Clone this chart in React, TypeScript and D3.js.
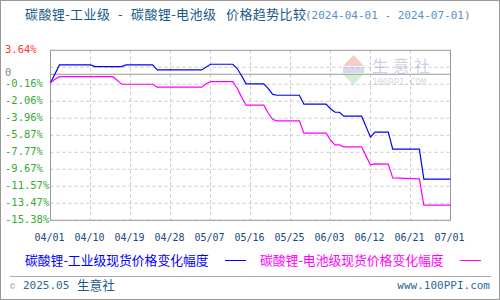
import React from "react";
import * as d3 from "d3";

// ---- data (day index from 2024-04-01, % change) ----
const industrialDays = [0, 1, 2, 9, 10, 16, 17, 23, 24, 34, 36, 41, 42, 43, 44, 48, 49, 50, 51, 56, 57, 62, 63, 64, 65, 66, 70, 71, 72, 73, 76, 77, 83, 84, 90];
const industrialValues = [0, 1.0, 2.0, 2.0, 1.81, 1.81, 2.0, 2.0, 1.44, 1.44, 2.08, 2.08, 1.6, 0.8, -0.12, -0.12, -0.65, -1.3, -1.39, -1.39, -2.39, -2.39, -2.9, -3.29, -3.29, -3.73, -3.73, -4.9, -6.08, -5.52, -5.5, -7.42, -7.42, -10.77, -10.77];

const batteryDays = [0, 1, 2, 14, 15, 16, 23, 24, 34, 35, 36, 41, 42, 43, 44, 48, 49, 50, 51, 56, 57, 62, 63, 64, 65, 66, 70, 71, 72, 73, 76, 77, 83, 84, 90];
const batteryValues = [0, 0.4, 0.69, 0.69, 0.3, -0.16, -0.16, -0.49, -0.49, -0.1, 0.13, 0.13, -0.6, -1.6, -2.5, -2.5, -3.4, -4.1, -4.26, -4.26, -5.63, -5.63, -6.4, -6.94, -6.94, -7.16, -7.16, -8.2, -9.18, -9.07, -9.1, -10.63, -10.75, -13.68, -13.68];

const xTickDays = [0, 9, 18, 27, 36, 45, 54, 63, 72, 81, 90];
const xTickLabels = ["04/01", "04/10", "04/19", "04/28", "05/07", "05/16", "05/25", "06/03", "06/12", "06/21", "07/01"];

const yTickValues = [3.64, 1.74, -0.16, -2.06, -3.96, -5.87, -7.77, -9.67, -11.57, -13.47, -15.38];
const yTickLabels = ["3.64%", "", "-0.16%", "-2.06%", "-3.96%", "-5.87%", "-7.77%", "-9.67%", "-11.57%", "-13.47%", "-15.38%"];
const zeroLineValue = 0.96; // where the source draws its "0" reference line
const zeroLabel = "0";

const titleParts = ["碳酸锂-工业级", "-", "碳酸锂-电池级", "价格趋势比较"];
const titleDates = "(2024-04-01 - 2024-07-01)";
const seriesNames = ["碳酸锂-工业级现货价格变化幅度", "碳酸锂-电池级现货价格变化幅度"];
const seriesColors = ["#0000ff", "#ff00ff"];

const W = 500, H = 300;
const plot = { left: 50.5, right: 450.5, top: 50.3, bottom: 220.3 };
const mono = "'DejaVu Sans Mono', monospace";
const cjk = "'Noto Sans CJK SC', sans-serif";
const titleX = [25, 118, 131, 226];

export default function App() {
  const x = d3.scaleLinear().domain([0, 90]).range([plot.left, plot.right]);
  const y = d3.scaleLinear().domain([-15.38, 3.64]).range([plot.bottom, plot.top]);
  const line = d3.line<[number, number]>().x(d => x(d[0])).y(d => y(d[1]));
  const s1: [number, number][] = industrialDays.map((d, i) => [d, industrialValues[i]]);
  const s2: [number, number][] = batteryDays.map((d, i) => [d, batteryValues[i]]);

  return (
    <svg width={W} height={H} style={{ position: "absolute", left: 0, top: 0, background: "#fff" }}>
      <rect x={0.5} y={0.5} width={W - 1} height={H - 1} fill="#fff" stroke="#999" />
      {/* title */}
      <text y={19} fontFamily={cjk} fontSize={13} letterSpacing={0.4} fill="#16598a">
        {titleParts.map((t, i) => (
          <tspan key={"t" + i} x={titleX[i]}>{t}</tspan>
        ))}
        <tspan x={305} fontFamily={mono} fontSize={11} letterSpacing={0} fill="#5a8fbf">{titleDates}</tspan>
      </text>

      {/* grid */}
      {yTickValues.slice(1).map((v, i) => (
        <line key={"gy" + i} x1={plot.left} x2={plot.right} y1={y(v)} y2={y(v)} stroke="#c8c8c8" strokeDasharray="3,3" />
      ))}
      {xTickDays.slice(1, -1).map((d, i) => (
        <line key={"gx" + i} x1={x(d)} x2={x(d)} y1={plot.top} y2={plot.bottom} stroke="#c8c8c8" strokeDasharray="3,3" />
      ))}

      {/* watermark */}
      <g opacity={0.4}>
        <path d={`M353.5,55 L343,66 L364,66 Z`} fill="#f08070" />
        <rect x={343} y={67} width={21} height={6} fill="#9aa4c8" />
        <path d={`M343,74 L364,74 L353.5,85 Z`} fill="#90d890" />
        <text x={372} y={72} fontFamily={cjk} fontSize={16} fill="#8090c0" letterSpacing={5}>生意社</text>
        <text x={372} y={85} fontFamily={mono} fontSize={9} fill="#a0a0a0">100PPI.COM</text>
      </g>

      {/* zero reference line */}
      <line x1={plot.left} x2={plot.right} y1={y(zeroLineValue)} y2={y(zeroLineValue)} stroke="#999" strokeWidth={1} />

      {/* frame */}
      <rect x={plot.left} y={plot.top} width={plot.right - plot.left} height={plot.bottom - plot.top} fill="none" stroke="#999" />

      {/* series */}
      <path d={line(s1) || ""} fill="none" stroke={seriesColors[0]} strokeWidth={1.2} />
      <path d={line(s2) || ""} fill="none" stroke={seriesColors[1]} strokeWidth={1.2} />

      {/* y labels */}
      {yTickValues.map((v, i) =>
        yTickLabels[i] ? (
          <text key={"yl" + i} x={5} y={y(v) - 1} dy="0.35em" fontFamily={mono} fontSize={10.5} fill={i === 0 ? "#ff3333" : "#33aa33"}>
            {yTickLabels[i]}
          </text>
        ) : null
      )}
      <text x={5} y={y(zeroLineValue) - 1.5} dy="0.35em" fontFamily={mono} fontSize={10.5} fill="#888">{zeroLabel}</text>

      {/* x labels */}
      {xTickDays.map((d, i) => (
        <text key={"xl" + i} x={x(d) - 1} y={241} textAnchor="middle" fontFamily={mono} fontSize={10} fill="#1a4a7a">
          {xTickLabels[i]}
        </text>
      ))}

      {/* legend */}
      <text x={25} y={265} fontFamily={cjk} fontSize={12.8} fill={seriesColors[0]}>{seriesNames[0]}</text>
      <line x1={225} x2={246} y1={260.5} y2={260.5} stroke={seriesColors[0]} />
      <text x={260} y={265} fontFamily={cjk} fontSize={12.8} fill={seriesColors[1]}>{seriesNames[1]}</text>
      <line x1={460} x2={481} y1={260.5} y2={260.5} stroke={seriesColors[1]} />

      {/* footer */}
      <line x1={10} x2={491} y1={276.5} y2={276.5} stroke="#aaa" />
      <text x={10} y={289} fontFamily={mono} fontSize={8} fill="#7aa0c0">©</text>
      <text x={23} y={289} fontFamily={mono} fontSize={11} fill="#2a6a9a">2025.05</text>
      <text x={77} y={290} fontFamily={cjk} fontSize={12.6} fill="#1a5a8a">生意社</text>
      <text x={490} y={289} textAnchor="end" fontFamily={mono} fontSize={11} fill="#2a6a9a">www.100PPI.com</text>
    </svg>
  );
}
